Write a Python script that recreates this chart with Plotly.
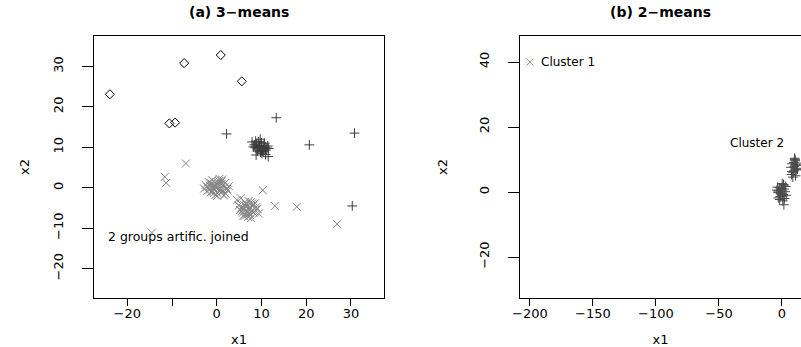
import plotly.graph_objects as go

# ---------------- data: panel (a) 3-means ----------------
# cluster drawn with diamonds
diam_x = [-23.9, -7.3, 0.9, 5.6, -10.6, -9.3]
diam_y = [23.1, 30.8, 32.8, 26.3, 15.9, 16.1]

# cluster drawn with "+" (dark grey)
plus_x = [9.5, 10.3, 8.9, 10.8, 9.1, 10.0, 11.2, 8.6, 9.8, 10.5, 9.3, 11.0, 8.4, 10.1, 9.6,
          10.7, 9.0, 11.4, 9.9, 8.7, 10.4, 9.4, 10.9, 8.2, 11.6, 9.7, 10.2, 8.8, 11.5, 7.9,
          2.2, 13.3, 20.7, 30.8, 30.3]
plus_y = [10.2, 9.5, 10.8, 10.0, 9.1, 11.1, 9.8, 9.9, 8.8, 10.5, 11.4, 9.3, 10.6, 8.5, 10.0,
          11.0, 9.6, 10.3, 9.2, 11.5, 8.9, 10.4, 8.2, 10.1, 9.7, 12.0, 9.0, 8.1, 7.7, 11.3,
          13.3, 17.3, 10.6, 13.5, -4.5]

# cluster drawn with "x" (light grey): two joined groups plus scattered points
cross_x = [-0.5, 0.8, -1.2, 1.5, 0.2, -2.1, 2.3, -0.9, 1.1, -1.6, 0.4, 1.9, -0.3, -2.5, 2.7,
           0.9, -1.0, 0.0, 1.4, -1.8, 0.6, -0.7, 2.0, -1.3, 0.3, 1.7, -2.2, 0.1, -0.4, 1.2,
           -1.5, 2.4, -0.1, 0.7, -2.8, 1.0, -0.6, 1.6, -1.1, 0.5,
           7.3, 6.1, 8.2, 5.6, 7.9, 6.8, 8.8, 5.2, 7.0, 6.4, 8.5, 7.6, 5.9, 9.1, 6.6,
           7.4, 8.0, 6.2, 7.8, 5.5, 8.6, 6.9, 7.2, 4.9, 9.4, 6.0, 7.7, 8.3, 6.5, 7.1,
           5.8, 8.9, 6.7, 7.5, 6.3,
           -6.9, -11.6, -11.3, 10.3, 13.0, 17.9, 26.9, -14.5, 4.5, 5.4]
cross_y = [0.3, -0.6, 1.1, 0.8, -1.4, 0.2, -0.3, -1.0, 1.6, -0.5, 0.9, 1.2, -1.8, 0.7, 0.4,
           -1.2, 1.9, 0.0, -0.8, 1.4, 2.2, -0.2, -1.5, -1.1, 1.3, 0.1, -0.9, -2.0, 0.6, 2.0,
           0.4, -0.7, 1.0, -0.4, -0.2, 0.9, -1.3, -1.9, 0.5, 1.7,
           -5.0, -4.2, -6.1, -5.8, -3.9, -6.6, -4.8, -5.5, -7.2, -4.5, -5.9, -3.6, -6.9, -5.2, -4.0,
           -6.3, -4.6, -7.0, -5.7, -4.9, -3.8, -6.0, -5.4, -4.4, -6.4, -5.1, -7.5, -4.1, -5.6, -3.3,
           -6.2, -5.3, -4.7, -6.8, -3.5,
           6.0, 2.7, 1.2, -0.6, -4.5, -4.7, -9.0, -11.1, -3.0, -2.6]

# ---------------- data: panel (b) 2-means ----------------
c1_x = [-200.0]
c1_y = [40.0]
c2_x = [-2.5, 0.6, -3.6, 1.8, -1.0, 1.4, -2.9, 2.5, -0.3, -1.8, 0.9, -4.0, 3.0, -1.4, 0.2,
        -2.6, 2.1, -0.7, 3.4, -2.1, 0.6, -3.2, 1.2, 1.5,
        9.8, 11.2, 8.0, 10.5, 8.9, 12.0, 10.0, 7.6, 11.6, 9.4, 10.8, 7.2, 11.9, 9.6, 10.3,
        12.4, 8.6, 11.0, 10.1, 7.9]
c2_y = [0.4, -1.2, 1.5, 0.9, -0.5, 2.1, -1.8, 0.1, 1.1, -2.3, -0.8, 0.6, 1.7, -1.4, 2.6,
        -0.2, -2.0, 0.8, -1.0, 1.3, -2.7, 0.0, 2.3, -3.9,
        7.9, 6.8, 8.7, 9.6, 6.1, 8.2, 10.4, 5.4, 7.3, 9.1, 5.0, 7.6, 8.9, 6.5, 10.1,
        7.0, 4.6, 8.4, 9.9, 6.3]

# ticks
a_xticks = [-20, -10, 0, 10, 20, 30]
a_xtext = ["\u221220", "", "0", "10", "20", "30"]
a_yticks = [-20, -10, 0, 10, 20, 30]
b_xticks = [-200, -150, -100, -50, 0]
b_yticks = [-20, 0, 20, 40]

titles = ["(a) 3\u2212means", "(b) 2\u2212means"]

FONT = "DejaVu Sans"
DARK = "#3c3c3c"
MID = "#858585"
LIGHT = "#8f8f8f"
TICKSIZE = 13

fig = go.Figure()

def pts(x, y, symbol, size, color, xa, ya):
    return go.Scatter(x=x, y=y, mode="markers", xaxis=xa, yaxis=ya, showlegend=False,
                      hoverinfo="skip",
                      marker=dict(symbol=symbol, size=size, color=color,
                                  line=dict(width=1, color=color)))

fig.add_trace(pts(cross_x, cross_y, "x-thin", 8, MID, "x", "y"))
fig.add_trace(pts(plus_x, plus_y, "cross-thin", 7, DARK, "x", "y"))
fig.add_trace(pts(diam_x, diam_y, "diamond-open", 7, "#000000", "x", "y"))

fig.add_trace(pts(c1_x, c1_y, "x-thin", 7, LIGHT, "x2", "y2"))
fig.add_trace(pts(c2_x, c2_y, "cross-thin", 7, "#4a4a4a", "x2", "y2"))

axis_common = dict(showgrid=False, zeroline=False, ticks="outside", tickcolor="black",
                   linecolor="black", linewidth=1, showline=True,
                   tickfont=dict(family=FONT, size=TICKSIZE, color="black"))
title_font = dict(family=FONT, size=13, color="black")

fig.update_layout(
    width=801, height=347,
    margin=dict(l=94, r=0, t=36, b=49),
    plot_bgcolor="white", paper_bgcolor="white",
    xaxis=dict(domain=[0, 290 / 707], range=[-27.45, 37.4], tickvals=a_xticks, ticktext=a_xtext,
               mirror=True, ticklen=7, anchor="y", ticklabelstandoff=-4,
               title=dict(text="x1", font=title_font, standoff=16),
               **axis_common),
    yaxis=dict(domain=[0, 1], range=[-27.25, 37.5], tickvals=a_yticks, tickangle=-90,
               mirror=True, ticklen=11, anchor="x", ticklabelstandoff=14,
               title=dict(text="x2", font=title_font, standoff=18),
               **axis_common),
    xaxis2=dict(domain=[426 / 707, 1], range=[-207.9, 15.1], tickvals=b_xticks,
                mirror=True, ticklen=7, anchor="y2", ticklabelstandoff=-4,
                title=dict(text="x1", font=title_font, standoff=16),
                **axis_common),
    yaxis2=dict(domain=[0, 1], range=[-32.6, 48.0], tickvals=b_yticks, tickangle=-90,
                mirror=False, ticklen=11, anchor="x2", ticklabelstandoff=14,
                title=dict(text="x2", font=title_font, standoff=26),
                **axis_common),
)

for i, ref in enumerate(["x domain", "x2 domain"]):
    fig.add_annotation(text="<b>%s</b>" % titles[i], xref=ref, yref="paper", x=0.5, y=1.0,
                       yshift=24, xanchor="center", yanchor="middle", showarrow=False,
                       font=dict(family=FONT, size=14, color="black"))

fig.add_annotation(text="2 groups artific. joined", xref="x", yref="y", x=-24.8, y=-12.0,
                   xanchor="left", yanchor="middle", showarrow=False,
                   font=dict(family=FONT, size=12.5, color="black"))
fig.add_annotation(text="Cluster 1", xref="x2", yref="y2", x=-193.0, y=40.0,
                   xanchor="left", yanchor="middle", showarrow=False,
                   font=dict(family=FONT, size=12, color="black"))
fig.add_annotation(text="Cluster 2", xref="x2", yref="y2", x=-20.0, y=15.0,
                   xanchor="center", yanchor="middle", showarrow=False,
                   font=dict(family=FONT, size=12, color="black"))

fig.write_html("out.html", config={"displayModeBar": False},
               post_script="document.body.style.margin='0';")
